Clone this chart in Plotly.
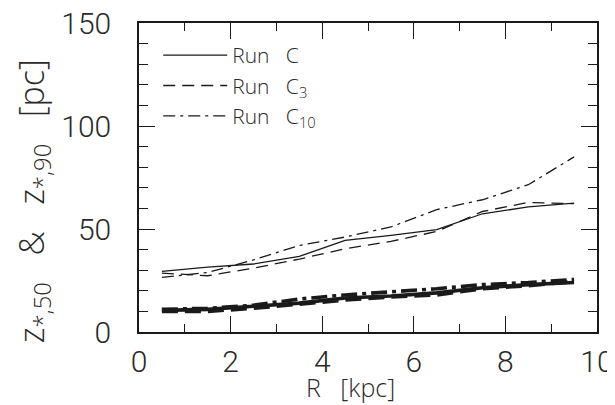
import plotly.graph_objects as go

R = [0.5, 1.5, 2.5, 3.5, 4.5, 5.5, 6.5, 7.5, 8.5, 9.5]

# z_*,90 (upper, thin lines)
z90_C   = [29.4, 31.5, 33.0, 36.7, 44.5, 46.9, 49.7, 57.4, 60.7, 62.6]
z90_C3  = [28.6, 27.3, 31.0, 35.4, 40.4, 44.0, 48.8, 58.5, 62.9, 62.3]
z90_C10 = [26.5, 28.9, 35.0, 42.0, 46.1, 51.0, 59.4, 64.2, 71.5, 85.0]

# z_*,50 (lower, thick lines)
z50_C   = [10.5, 11.0, 12.5, 14.0, 16.5, 17.5, 19.0, 21.5, 23.0, 24.0]
z50_C3  = [10.0, 10.0, 11.5, 13.5, 15.5, 17.0, 18.0, 21.0, 22.5, 24.5]
z50_C10 = [11.0, 11.5, 13.0, 16.0, 18.0, 19.5, 21.0, 23.0, 24.0, 25.5]

NB = "\u00a0"
names = ["Run" + NB * 3 + "C", "Run" + NB * 3 + "C<sub>3</sub>", "Run" + NB * 3 + "C<sub>10</sub>"]
thin_dash = ["solid", "12px,7px", "12px,5px,3px,5px"]
thick_dash = ["solid", "16px,7px", "16px,5px,4px,5px"]
col = "#1a1a1a"
tcol = "#2a2a2a"

fig = go.Figure()
for i, (up, lo) in enumerate(zip([z90_C, z90_C3, z90_C10], [z50_C, z50_C3, z50_C10])):
    fig.add_trace(go.Scatter(x=R, y=up, mode="lines", name=names[i], legendgroup=str(i),
                             line=dict(color=col, width=1.3, dash=thin_dash[i])))
    fig.add_trace(go.Scatter(x=R, y=lo, mode="lines", name=names[i], legendgroup=str(i),
                             showlegend=False,
                             line=dict(color=col, width=3.6, dash=thick_dash[i])))

font = "Roboto, Liberation Sans, Arial, sans-serif"
tfam = "Open Sans, Roboto, Liberation Sans, sans-serif"
axis_common = dict(showgrid=False, zeroline=False, showline=True, linecolor=col, linewidth=1.5,
                   mirror="allticks", ticks="inside", tickcolor=col, tickwidth=1.3, ticklen=16,
                   automargin=False, ticklabeloverflow="allow",
                   tickfont=dict(family=font, size=30, color=tcol, weight=300))
fig.update_xaxes(range=[0, 10], dtick=2, tick0=0, ticklabelstandoff=2,
                 minor=dict(ticks="inside", dtick=1, ticklen=8, tickcolor=col, tickwidth=1.3),
                 **axis_common)
fig.update_yaxes(range=[0, 150], dtick=50, tick0=0, ticklabelstandoff=20,
                 minor=dict(ticks="inside", dtick=10, ticklen=9, tickcolor=col, tickwidth=1.3),
                 **axis_common)

fig.add_annotation(text="R" + NB * 3 + "[kpc]", xref="paper", yref="paper",
                   x=0.4607, y=-0.177, xanchor="center", yanchor="middle",
                   showarrow=False, font=dict(family=tfam, size=25, color=tcol, weight=300))
fig.add_annotation(text="z<sub>*,50</sub>" + NB * 3 + "&" + NB * 3 + "z<sub>*,90</sub>" + NB * 3 + "[pc]",
                   xref="paper", yref="paper", x=-0.231, y=0.424, textangle=-90,
                   xanchor="center", yanchor="middle", showarrow=False,
                   font=dict(family=tfam, size=34, color=tcol, weight=300))

# the page adds an 8 px body margin, so the figure is 8 px smaller than the window
fig.update_layout(
    width=607, height=397,
    margin=dict(l=131, r=18, t=15, b=73),
    plot_bgcolor="white", paper_bgcolor="white",
    showlegend=True,
    legend=dict(x=0.042, y=0.961, xanchor="left", yanchor="top", bgcolor="rgba(0,0,0,0)",
                font=dict(family=tfam, size=21, color=tcol, weight=300), tracegroupgap=0,
                itemwidth=64),
)

fig.write_html("out.html")
